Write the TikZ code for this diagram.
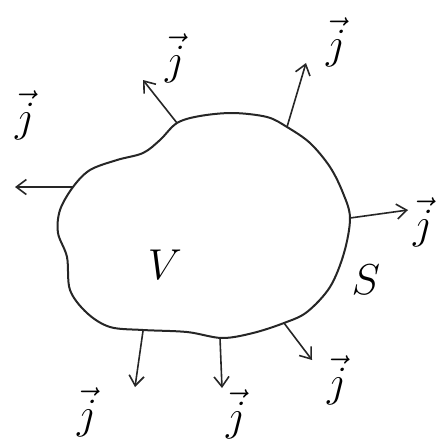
\documentclass[tikz,border=0pt]{standalone}
\usepackage{tikz}
\usetikzlibrary{arrows.meta}
\newcommand{\jvec}{\scalebox{3}{$\vec{j}$}}
\newcommand{\bigsym}[1]{\scalebox{3}{$#1$}}

\begin{document}
\begin{tikzpicture}[
    x=1pt, y=-1pt,
    blob/.style={line width=2pt, black!85},
    flux/.style={-{Straight Barb[length=10pt, width=15pt, line width=1.6pt]}, line width=1.6pt, black!85},
    lab/.style={font=\Large, inner sep=0pt},
]
\useasboundingbox (0,0) rectangle (441,444);

% Surface S around the volume V
\draw[blob] plot[smooth cycle, tension=0.55] coordinates {
    (177,123) (200,116) (233,113) (267,117) (287,127) (310,143) (330,167)
    (343,193) (350,218) (344,253) (330,287) (307,312) (284,323) (253,333)
    (222,338) (187,332) (143,330) (110,327) (87,313) (70,290) (67,257)
    (58,233) (60,210) (73,187) (90,170) (117,160) (143,153) (160,140)};

% Points on the surface
\coordinate (p1) at (177,123);
\coordinate (p2) at (287,127);
\coordinate (p3) at (73,187);
\coordinate (p4) at (350,218);
\coordinate (p5) at (284,323);
\coordinate (p6) at (220,338);
\coordinate (p7) at (143,331);

% Tips of the arrows
\coordinate (q1) at (143,80);
\coordinate (q2) at (306,63);
\coordinate (q3) at (15,187);
\coordinate (q4) at (408,210);
\coordinate (q5) at (312,360);
\coordinate (q6) at (222,388);
\coordinate (q7) at (135,387);

% Outward flux
\draw[flux] (p1) -- (q1);
\draw[flux] (p2) -- (q2);
\draw[flux] (p3) -- (q3);
\draw[flux] (p4) -- (q4);
\draw[flux] (p5) -- (q5);
\draw[flux] (p6) -- (q6);
\draw[flux] (p7) -- (q7);

% Labels
\node[lab] (j1) at (175,58)  {\jvec};
\node[lab] (j2) at (336,42)  {\jvec};
\node[lab] (j3) at (25,115)  {\jvec};
\node[lab] (j4) at (423,222) {\jvec};
\node[lab] (j5) at (337,380) {\jvec};
\node[lab] (j6) at (236,414) {\jvec};
\node[lab] (j7) at (87,412)  {\jvec};
\node[lab] (vol) at (165,265) {\bigsym{V}};
\node[lab] (surf) at (366,280) {\bigsym{S}};
\end{tikzpicture}
\end{document}
